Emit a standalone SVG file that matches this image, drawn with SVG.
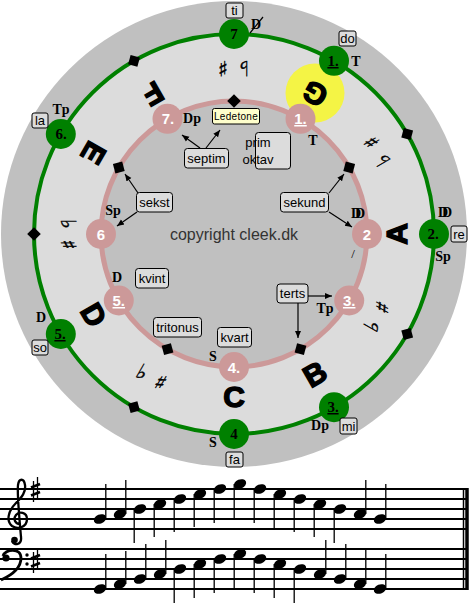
<svg xmlns="http://www.w3.org/2000/svg" width="469" height="615" viewBox="0 0 469 615">
<style>
.gn{fill:#008000}
.pn{fill:#CC9999}
.gt{font-family:"Liberation Serif",serif;font-weight:bold;font-size:15px;fill:#000;text-anchor:middle}
.pt{font-family:"Liberation Sans",sans-serif;font-weight:bold;font-size:15px;fill:#fff;text-anchor:middle}
.fn{font-family:"Liberation Serif",serif;font-weight:bold;font-size:14px;fill:#000;text-anchor:middle}
.lt{font-family:"Liberation Sans",sans-serif;font-weight:bold;font-size:30px;fill:#000;stroke:#000;stroke-width:1.4;text-anchor:middle;dominant-baseline:central}
.ac{font-family:"DejaVu Sans",sans-serif;font-size:21px;fill:#000;stroke:#000;stroke-width:0.4;text-anchor:middle;dominant-baseline:central}
.bx{fill:#DCDCDC;stroke:#000;stroke-width:1}
.bt{font-family:"Liberation Sans",sans-serif;font-size:13px;fill:#000;text-anchor:middle}
.dm{fill:#000}
.ar{stroke:#000;stroke-width:1.2;fill:none;marker-end:url(#ah)}
.sl{stroke:#000;stroke-width:1.8}
.st{stroke:#000;stroke-width:1.3}
.nh{fill:#000}
</style>
<defs>
<marker id="ah" markerWidth="8" markerHeight="8" refX="7" refY="4" orient="auto" markerUnits="userSpaceOnUse"><path d="M0,1 L7,4 L0,7 z" fill="#000"/></marker>
<rect id="dia" x="-4.8" y="-4.8" width="9.6" height="9.6"/>
<ellipse id="head" rx="6.4" ry="4.5" transform="rotate(-22)"/>
<g id="kshp" stroke="#000" fill="none">
<line x1="33.5" y1="-8" x2="33.5" y2="13" stroke-width="1.3"/>
<line x1="37.5" y1="-12" x2="37.5" y2="9" stroke-width="1.3"/>
<line x1="31" y1="-1.5" x2="40" y2="-5" stroke-width="2.6"/>
<line x1="31" y1="6.5" x2="40" y2="3" stroke-width="2.6"/>
</g>
</defs>
<rect width="469" height="615" fill="#fff"/>
<g id="background">
<circle cx="234" cy="234" r="233" fill="#C0C0C0"/>
<circle cx="234" cy="234" r="200" fill="#DCDCDC"/>
<circle cx="234" cy="234" r="133" fill="#C0C0C0"/>
<circle cx="315" cy="93" r="29.5" fill="#F4F445"/>
</g>
<g id="rings" fill="none">
<circle cx="234" cy="234" r="200" stroke="#008000" stroke-width="4"/>
<circle cx="234" cy="234" r="133" stroke="#CC9999" stroke-width="5"/>
</g>
<g id="diamonds">
<use href="#dia" class="dm" transform="translate(407.2,134) rotate(15)"/>
<use href="#dia" class="dm" transform="translate(407.2,334) rotate(75)"/>
<use href="#dia" class="dm" transform="translate(134,407.2) rotate(165)"/>
<use href="#dia" class="dm" transform="translate(34,234) rotate(225)"/>
<use href="#dia" class="dm" transform="translate(134,60.8) rotate(285)"/>
<use href="#dia" class="dm" transform="translate(234,101) rotate(-45)"/>
<use href="#dia" class="dm" transform="translate(349.2,167.5) rotate(15)"/>
<use href="#dia" class="dm" transform="translate(300.5,349.2) rotate(105)"/>
<use href="#dia" class="dm" transform="translate(167.5,349.2) rotate(165)"/>
<use href="#dia" class="dm" transform="translate(118.8,167.5) rotate(255)"/>
</g>
<g id="letters">
<text class="lt" transform="translate(396,234) rotate(-90)">A</text>
<text class="lt" transform="translate(315,374) rotate(-30)">B</text>
<text class="lt" transform="translate(234,396)">C</text>
<text class="lt" transform="translate(93.7,315) rotate(60)">D</text>
<text class="lt" transform="translate(93.7,153) rotate(120)">E</text>
<text class="lt" transform="translate(153,93.7) rotate(150)">F</text>
<text class="lt" transform="translate(315,93.7) rotate(210)">G</text>
</g>
<g id="accidentals">
<text class="ac" transform="translate(223,68.4) rotate(180)">♯</text>
<text class="ac" transform="translate(244.1,68.3) rotate(180)">♭</text>
<text class="ac" transform="translate(372.1,141.9) rotate(-120)">♯</text>
<text class="ac" transform="translate(382.6,160) rotate(-120)">♭</text>
<text class="ac" transform="translate(382.8,307.5) rotate(-60)">♯</text>
<text class="ac" transform="translate(372.4,325.6) rotate(-60)">♭</text>
<text class="ac" transform="translate(160.5,382.8) rotate(30)">♯</text>
<text class="ac" transform="translate(142.4,372.4) rotate(30)">♭</text>
<text class="ac" transform="translate(68.3,244.7) rotate(90)">♯</text>
<text class="ac" transform="translate(68.3,223.9) rotate(90)">♭</text>
<text x="353" y="258" font-family="Liberation Serif,serif" font-size="13" text-anchor="middle">/</text>
</g>
<g id="green-nodes">
<g id="g7"><circle class="gn" cx="234" cy="34" r="15"/><text class="gt" x="234" y="39">7</text></g>
<g id="g1"><circle class="gn" cx="334" cy="60.8" r="15"/><text class="gt" x="333" y="66" text-decoration="underline">1.</text></g>
<g id="g2"><circle class="gn" cx="434" cy="234" r="15"/><text class="gt" x="433" y="239">2.</text></g>
<g id="g3"><circle class="gn" cx="334" cy="407.2" r="15"/><text class="gt" x="333" y="412" text-decoration="underline">3.</text></g>
<g id="g4"><circle class="gn" cx="234" cy="434" r="15"/><text class="gt" x="234" y="439">4</text></g>
<g id="g5"><circle class="gn" cx="60.8" cy="334" r="15"/><text class="gt" x="60" y="339" text-decoration="underline">5.</text></g>
<g id="g6"><circle class="gn" cx="60.8" cy="134" r="15"/><text class="gt" x="61" y="139">6.</text></g>
</g>
<g id="pink-nodes">
<g id="p1"><circle class="pn" cx="300.5" cy="118.8" r="15"/><text class="pt" x="300.5" y="124" text-decoration="underline">1.</text></g>
<g id="p2"><circle class="pn" cx="367" cy="234" r="15"/><text class="pt" x="367" y="239.5">2</text></g>
<g id="p3"><circle class="pn" cx="349.2" cy="300.5" r="15"/><text class="pt" x="349.2" y="306" text-decoration="underline">3.</text></g>
<g id="p4"><circle class="pn" cx="234" cy="367" r="15"/><text class="pt" x="234" y="372.5">4.</text></g>
<g id="p5"><circle class="pn" cx="118.8" cy="300.5" r="15"/><text class="pt" x="118.8" y="306" text-decoration="underline">5.</text></g>
<g id="p6"><circle class="pn" cx="101" cy="234" r="15"/><text class="pt" x="101" y="239.5">6</text></g>
<g id="p7"><circle class="pn" cx="167.5" cy="118.8" r="15"/><text class="pt" x="168" y="124">7.</text></g>
</g>
<g id="functions">
<text class="fn" x="356" y="66">T</text>
<text class="fn" x="442" y="217" letter-spacing="-6">DD</text>
<text class="fn" x="443" y="261">Sp</text>
<text class="fn" x="320" y="430">Dp</text>
<text class="fn" x="213" y="447">S</text>
<text class="fn" x="41" y="322">D</text>
<text class="fn" x="61" y="114">Tp</text>
<text class="fn" x="256" y="29">D</text>
<line x1="250" y1="33" x2="263" y2="17" stroke="#000" stroke-width="1.2"/>
<text class="fn" x="313" y="145">T</text>
<text class="fn" x="355" y="218" letter-spacing="-6">DD</text>
<text class="fn" x="325" y="313">Tp</text>
<text class="fn" x="213" y="361">S</text>
<text class="fn" x="117" y="282">D</text>
<text class="fn" x="113" y="215">Sp</text>
<text class="fn" x="192" y="123">Dp</text>
</g>
<g id="solfege">
<g id="s-ti"><rect class="bx" x="226" y="3" width="17" height="15" rx="2"/><text class="bt" x="234.5" y="15">ti</text></g>
<g id="s-do"><rect class="bx" x="339" y="31" width="17" height="15" rx="2"/><text class="bt" x="347.5" y="43">do</text></g>
<g id="s-re"><rect class="bx" x="451" y="226" width="16" height="16" rx="2"/><text class="bt" x="459" y="238.5">re</text></g>
<g id="s-mi"><rect class="bx" x="340" y="418" width="17" height="16" rx="2"/><text class="bt" x="348.5" y="430.5">mi</text></g>
<g id="s-fa"><rect class="bx" x="226" y="452" width="17" height="15" rx="2"/><text class="bt" x="234.5" y="464">fa</text></g>
<g id="s-so"><rect class="bx" x="32" y="340" width="16" height="15" rx="2"/><text class="bt" x="40" y="352">so</text></g>
<g id="s-la"><rect class="bx" x="32" y="113" width="16" height="15" rx="2"/><text class="bt" x="40" y="125">la</text></g>
</g>
<g id="intervals">
<g id="ledetone"><rect x="212.5" y="108.5" width="47" height="15.5" rx="2" fill="#FFFFCC" stroke="#000"/><text x="236" y="120" font-family="Liberation Sans,sans-serif" font-size="10" text-anchor="middle" letter-spacing="0.3">Ledetone</text></g>
<g id="septim"><rect class="bx" x="184.5" y="148.5" width="44" height="19.5" rx="3"/><text class="bt" x="206.5" y="163">septim</text></g>
<g id="primoktav"><rect class="bx" x="255.5" y="132.5" width="35" height="36.5" rx="3"/><text class="bt" x="258" y="147" text-anchor="start">prim</text><text class="bt" x="258" y="164" text-anchor="start">oktav</text></g>
<g id="sekund"><rect class="bx" x="280.5" y="192.5" width="48" height="19.5" rx="3"/><text class="bt" x="304.5" y="207">sekund</text></g>
<g id="sekst"><rect class="bx" x="136.5" y="192.5" width="36" height="19.5" rx="3"/><text class="bt" x="154.5" y="207">sekst</text></g>
<g id="kvint"><rect class="bx" x="135.5" y="268.5" width="33" height="19.5" rx="3"/><text class="bt" x="152" y="283">kvint</text></g>
<g id="tritonus"><rect class="bx" x="153.5" y="317.5" width="48" height="19.5" rx="3"/><text class="bt" x="177.5" y="332">tritonus</text></g>
<g id="kvart"><rect class="bx" x="217.5" y="327.5" width="34" height="19.5" rx="3"/><text class="bt" x="234.5" y="342">kvart</text></g>
<g id="terts"><rect class="bx" x="277" y="284" width="31" height="19" rx="3"/><text class="bt" x="292.5" y="298">terts</text></g>
</g>
<g id="connectors">
<line class="ar" x1="200" y1="148" x2="182" y2="135"/>
<line class="ar" x1="206" y1="148" x2="220" y2="130"/>
<line class="ar" x1="138" y1="193" x2="125" y2="174"/>
<line class="ar" x1="137" y1="212" x2="117" y2="226"/>
<line class="ar" x1="329" y1="193" x2="344" y2="174"/>
<line class="ar" x1="329" y1="212" x2="352" y2="227"/>
<line class="ar" x1="308" y1="296" x2="332" y2="296"/>
<line class="ar" x1="298" y1="303" x2="298" y2="338"/>
</g>
<text x="234" y="240" font-family="Liberation Sans,sans-serif" font-size="16" fill="#333" text-anchor="middle">copyright cleek.dk</text>
<g id="staff">
<g class="sl">
<line x1="0" y1="489" x2="466" y2="489"/><line x1="0" y1="499" x2="466" y2="499"/><line x1="0" y1="509" x2="466" y2="509"/><line x1="0" y1="519" x2="466" y2="519"/><line x1="0" y1="529" x2="466" y2="529"/>
<line x1="0" y1="549" x2="466" y2="549"/><line x1="0" y1="559" x2="466" y2="559"/><line x1="0" y1="569" x2="466" y2="569"/><line x1="0" y1="579" x2="466" y2="579"/><line x1="0" y1="589" x2="466" y2="589"/>
</g>
<line x1="463.5" y1="488" x2="463.5" y2="590" stroke="#000" stroke-width="1.5"/>
<line x1="467" y1="488" x2="467" y2="590" stroke="#000" stroke-width="3.5"/>
<g id="treble-clef" fill="none" stroke="#000">
<path d="M20 524 C15 524 13 519 16 515 C19 511 27 512 27 519 C27 527 18 530 12 526 C6 521 8 511 16 503 C22 497 26 492 25 485 C24 478 19 478 18 485 C17 495 20 525 21 537 C22 545 14 546 12 541" stroke-width="2.3"/>
<circle cx="14.5" cy="540" r="3.3" fill="#000" stroke="none"/>
</g>
<g id="bass-clef">
<circle cx="6" cy="558" r="3.6" fill="#000"/>
<path d="M3 556 C5 549 21 547 21 558 C21 568 12 575 1 580" fill="none" stroke="#000" stroke-width="2.8"/>
<circle cx="27" cy="555" r="1.7" fill="#000"/><circle cx="27" cy="564" r="1.7" fill="#000"/>
</g>
<use href="#kshp" transform="translate(0,489)"/>
<use href="#kshp" transform="translate(0,560)"/>
<g id="treble-notes" class="nh">
<use href="#head" transform="translate(100,519)"/><line class="st" x1="105.8" y1="519" x2="105.8" y2="484"/>
<use href="#head" transform="translate(120,514)"/><line class="st" x1="125.8" y1="514" x2="125.8" y2="480"/>
<use href="#head" transform="translate(140,509)"/><line class="st" x1="134.2" y1="509" x2="134.2" y2="543"/>
<use href="#head" transform="translate(160,504)"/><line class="st" x1="154.2" y1="504" x2="154.2" y2="537"/>
<use href="#head" transform="translate(180,499)"/><line class="st" x1="174.2" y1="499" x2="174.2" y2="532"/>
<use href="#head" transform="translate(200,494)"/><line class="st" x1="194.2" y1="494" x2="194.2" y2="527"/>
<use href="#head" transform="translate(220,489)"/><line class="st" x1="214.2" y1="489" x2="214.2" y2="523"/>
<use href="#head" transform="translate(240,484)"/><line class="st" x1="234.2" y1="484" x2="234.2" y2="520"/>
<use href="#head" transform="translate(260,489)"/><line class="st" x1="254.2" y1="489" x2="254.2" y2="523"/>
<use href="#head" transform="translate(280,494)"/><line class="st" x1="274.2" y1="494" x2="274.2" y2="530"/>
<use href="#head" transform="translate(300,499)"/><line class="st" x1="294.2" y1="499" x2="294.2" y2="532"/>
<use href="#head" transform="translate(320,504)"/><line class="st" x1="314.2" y1="504" x2="314.2" y2="537"/>
<use href="#head" transform="translate(340,509)"/><line class="st" x1="334.2" y1="509" x2="334.2" y2="543"/>
<use href="#head" transform="translate(360,514)"/><line class="st" x1="365.8" y1="514" x2="365.8" y2="480"/>
<use href="#head" transform="translate(380,519)"/><line class="st" x1="385.8" y1="519" x2="385.8" y2="484"/>
</g>
<g id="bass-notes" class="nh">
<use href="#head" transform="translate(100,589)"/><line class="st" x1="105.8" y1="589" x2="105.8" y2="554"/>
<use href="#head" transform="translate(120,584)"/><line class="st" x1="125.8" y1="584" x2="125.8" y2="551"/>
<use href="#head" transform="translate(140,579)"/><line class="st" x1="145.8" y1="579" x2="145.8" y2="544"/>
<use href="#head" transform="translate(160,574)"/><line class="st" x1="165.8" y1="574" x2="165.8" y2="540"/>
<use href="#head" transform="translate(180,569)"/><line class="st" x1="174.2" y1="569" x2="174.2" y2="603"/>
<use href="#head" transform="translate(200,564)"/><line class="st" x1="194.2" y1="564" x2="194.2" y2="598"/>
<use href="#head" transform="translate(220,559)"/><line class="st" x1="214.2" y1="559" x2="214.2" y2="593"/>
<use href="#head" transform="translate(240,554)"/><line class="st" x1="234.2" y1="554" x2="234.2" y2="589"/>
<use href="#head" transform="translate(260,559)"/><line class="st" x1="254.2" y1="559" x2="254.2" y2="593"/>
<use href="#head" transform="translate(280,564)"/><line class="st" x1="274.2" y1="564" x2="274.2" y2="598"/>
<use href="#head" transform="translate(300,569)"/><line class="st" x1="294.2" y1="569" x2="294.2" y2="603"/>
<use href="#head" transform="translate(320,574)"/><line class="st" x1="325.8" y1="574" x2="325.8" y2="540"/>
<use href="#head" transform="translate(340,579)"/><line class="st" x1="345.8" y1="579" x2="345.8" y2="544"/>
<use href="#head" transform="translate(360,584)"/><line class="st" x1="365.8" y1="584" x2="365.8" y2="550"/>
<use href="#head" transform="translate(380,589)"/><line class="st" x1="385.8" y1="589" x2="385.8" y2="554"/>
</g>
</g>
</svg>
